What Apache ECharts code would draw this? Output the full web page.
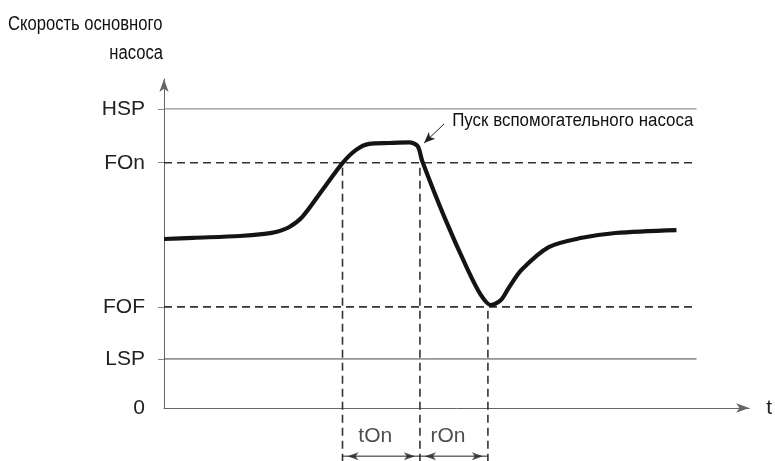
<!DOCTYPE html>
<html><head><meta charset="utf-8">
<script src="https://cdn.jsdelivr.net/npm/echarts@6/dist/echarts.min.js"></script>
<style>html,body{margin:0;padding:0;background:#fff}#c{width:775px;height:461px}</style>
</head><body><div id="c"></div>
<script>
// Level names and values (y: % of HSP)
const levelNames = ['0', 'LSP', 'FOF', 'FOn', 'HSP'];
const levelValues = [0, 16.4, 33.8, 82, 100];
// Main pump speed curve
const curveX = [0, 4.9, 12.8, 17.0, 19.1, 21.2, 23.4, 26.8, 30.2, 32.5, 34.7, 38.1, 41.5, 42.9, 43.7, 47.4, 51.4, 53.6, 55.3, 57.0, 58.3, 60.5, 65.1, 70.7, 76.4, 86.7];
const curveY = [56.5, 56.9, 57.5, 58.2, 58.9, 60.5, 63.9, 72.9, 81.9, 86.3, 88.3, 88.6, 88.8, 87.6, 82.5, 64.0, 46.2, 37.8, 34.4, 36.1, 40.1, 46.2, 53.8, 56.9, 58.5, 59.5];
// Event times
const eventTimes = [30.2, 43.3, 54.8];
const intervalNames = ['tOn', 'rOn'];
const levelLineEnd = 90.1;
const dimLevel = -16.1;
const bottomLevel = -18;
const noteText = 'Пуск вспомогательного насоса';
const notePoint = [44.0, 88.6];
const noteStart = [47.4, 95.0];
const titleLines = ['Скорость основного', 'насоса'];

const levelMap = {};
levelValues.forEach((v, i) => levelMap[v] = levelNames[i]);

const series = [];
const levelStyles = {
  'HSP': {type: 'solid', color: '#777', width: 1},
  'FOn': {type: [8, 5], color: '#333', width: 1.6},
  'FOF': {type: [8, 5], color: '#333', width: 1.6},
  'LSP': {type: 'solid', color: '#444', width: 1}
};
levelNames.forEach((n, i) => {
  if (!levelStyles[n]) return;
  series.push({
    type: 'line', silent: true, symbol: 'none', animation: false, z: 1,
    data: [[0, levelValues[i]], [levelLineEnd, levelValues[i]]],
    lineStyle: levelStyles[n]
  });
});
const tops = [levelValues[3], levelValues[3], levelValues[2]];
eventTimes.forEach((t, i) => {
  series.push({
    type: 'line', silent: true, symbol: 'none', animation: false, clip: false, z: 1,
    data: [[t, bottomLevel], [t, tops[i]]],
    lineStyle: {type: [8, 5], color: '#333', width: 1.6}
  });
});
// dimension arrows: shafts
intervalNames.forEach((n, i) => {
  series.push({
    type: 'line', silent: true, animation: false, clip: false, z: 2, symbol: 'none',
    data: [[eventTimes[i], dimLevel], [eventTimes[i + 1], dimLevel]],
    lineStyle: {color: '#222', width: 1}
  });
});
// arrowheads + labels
const heads = [];
const labels = [];
intervalNames.forEach((n, i) => {
  heads.push({value: [eventTimes[i], dimLevel], symbolRotate: 90, symbolOffset: [5, 0]});
  heads.push({value: [eventTimes[i + 1], dimLevel], symbolRotate: -90, symbolOffset: [-5, 0]});
  labels.push({value: [(eventTimes[i] + eventTimes[i + 1]) / 2, dimLevel], name: n});
});
series.push({
  type: 'scatter', silent: true, animation: false, clip: false, z: 3,
  symbol: 'arrow', symbolSize: [6, 11], data: heads,
  itemStyle: {color: '#222'}
});
series.push({
  type: 'scatter', silent: true, animation: false, clip: false, z: 3,
  symbolSize: 0, data: labels,
  label: {show: true, formatter: p => p.name, position: 'top', distance: 9, offset: [-6, 0], fontSize: 21, color: '#222', fontFamily: 'Liberation Sans, Arial'}
});
// speed curve
series.push({
  type: 'line', silent: true, animation: false, z: 5, symbol: 'none',
  smooth: 0.3,
  data: curveX.map((x, i) => [x, curveY[i]]),
  lineStyle: {color: '#141414', width: 4.2}
});
// note arrow
series.push({
  type: 'line', silent: true, animation: false, z: 6, symbol: 'none',
  data: [],
  markLine: {
    silent: true, animation: false, symbol: ['none', 'arrow'], symbolSize: [7, 11],
    label: {show: false},
    lineStyle: {color: '#222', width: 1, type: 'solid'},
    data: [[{coord: noteStart}, {coord: notePoint}]]
  }
});

const chart = echarts.init(document.getElementById('c'), null, {renderer: 'canvas'});
chart.setOption({
  animation: false,
  grid: {left: 164, right: 24, top: 79, bottom: 53, containLabel: false},
  xAxis: {
    type: 'value', min: 0, max: 99,
    name: 't', nameLocation: 'end', nameGap: 17,
    nameTextStyle: {fontSize: 21, color: '#222', fontFamily: 'Liberation Sans, Arial', verticalAlign: 'middle'},
    axisLine: {show: true, lineStyle: {color: '#666', width: 1}, symbol: ['none', 'arrow'], symbolSize: [7, 13]},
    axisTick: {show: false}, axisLabel: {show: false}, splitLine: {show: false}
  },
  yAxis: {
    type: 'value', min: 0, max: 110,
    axisLine: {show: true, lineStyle: {color: '#666', width: 1}, symbol: ['none', 'arrow'], symbolSize: [7, 13]},
    axisTick: {show: true, inside: false, length: 6, lineStyle: {color: '#888'}, customValues: levelValues.slice(1)},
    axisLabel: {show: true, customValues: levelValues, margin: 19, fontSize: 21, color: '#222',
      fontFamily: 'Liberation Sans, Arial', padding: [0, 0, 10, 0],
      formatter: v => levelMap[v] !== undefined ? levelMap[v] : ''},
    splitLine: {show: false}
  },
  series: series
});
const np = chart.convertToPixel({gridIndex: 0}, noteStart);
chart.setOption({
  graphic: [
    {type: 'text', x: 8, y: 14, scaleX: 0.83, style: {text: titleLines[0], font: '20px "Liberation Sans", Arial, sans-serif', fill: '#111'}},
    {type: 'text', x: 163, y: 43, scaleX: 0.83, style: {text: titleLines[1], textAlign: 'right', font: '20px "Liberation Sans", Arial, sans-serif', fill: '#111'}},
    {type: 'text', x: np[0] + 8, y: np[1] - 3, scaleX: 0.94, style: {text: noteText, textVerticalAlign: 'middle', font: '18px "Liberation Sans", Arial, sans-serif', fill: '#111'}}
  ]
});
</script></body></html>
